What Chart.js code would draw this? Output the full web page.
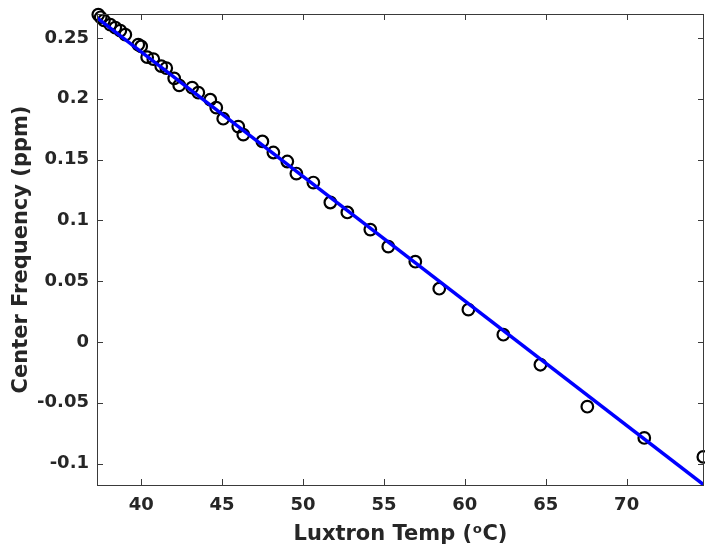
<!DOCTYPE html>
<html>
<head>
<meta charset="utf-8">
<script src="https://cdn.jsdelivr.net/npm/chart.js@4/dist/chart.umd.min.js"></script>
<style>
  html, body { margin: 0; padding: 0; background: #ffffff; overflow: hidden; }
  #wrap { width: 705px; height: 548px; }
  canvas { display: block; }
</style>
</head>
<body>
<div id="wrap"><canvas id="c" width="705" height="548"></canvas></div>
<script>
// Measured temperature (°C) and center frequency (ppm)
const tempC = [37.35, 37.50, 37.70, 38.09, 38.40, 38.71, 39.02, 39.82, 40.00, 40.37, 40.75,
  41.24, 41.55, 42.04, 42.35, 43.15, 43.53, 44.27, 44.64, 45.07, 46.00, 46.31, 47.49,
  48.17, 49.03, 49.59, 50.64, 51.69, 52.74, 54.16, 55.27, 56.94, 58.42, 60.22, 62.38,
  64.67, 67.57, 71.09, 74.74];
const centerFreq = [0.2692, 0.2670, 0.2645, 0.2609, 0.2585, 0.2560, 0.2527, 0.2445, 0.2430,
  0.2342, 0.2326, 0.2268, 0.2252, 0.2168, 0.2110, 0.2091, 0.2050, 0.1992, 0.1927, 0.1836,
  0.1771, 0.1705, 0.1649, 0.1558, 0.1484, 0.1385, 0.1311, 0.1147, 0.1065, 0.0924, 0.0784,
  0.0660, 0.0438, 0.0266, 0.0060, -0.0187, -0.0532, -0.0789, -0.0945];
// Linear fit line end points
const fitTemp = [37.27, 74.78];
const fitFreq = [0.2665, -0.1176];
// Axis ticks and limits
const xTicks = [40, 45, 50, 55, 60, 65, 70];
const yTicks = [-0.1, -0.05, 0, 0.05, 0.1, 0.15, 0.2, 0.25];
const yTickLabels = ['-0.1', '-0.05', '0', '0.05', '0.1', '0.15', '0.2', '0.25'];
const xLimits = [37.27, 74.78];
const yLimits = [-0.1176, 0.2697];

const axisColor = '#262626';

const boxPlugin = {
  id: 'boxTicks',
  afterDatasetsDraw(chart) {
    const {ctx, chartArea: a, scales: {x, y}} = chart;
    ctx.save();
    ctx.strokeStyle = '#3a3a3a';
    ctx.lineWidth = 1;
    ctx.beginPath();
    const L = 6;
    xTicks.forEach(v => {
      const px = Math.round(x.getPixelForValue(v)) + 0.5;
      ctx.moveTo(px, a.bottom); ctx.lineTo(px, a.bottom - L);
      ctx.moveTo(px, a.top); ctx.lineTo(px, a.top + L);
    });
    yTicks.forEach(v => {
      const py = Math.round(y.getPixelForValue(v)) + 0.5;
      ctx.moveTo(a.left, py); ctx.lineTo(a.left + L, py);
      ctx.moveTo(a.right, py); ctx.lineTo(a.right - L, py);
    });
    ctx.stroke();
    ctx.strokeRect(Math.round(a.left) + 0.5, Math.round(a.top) + 0.5,
      Math.round(a.right - a.left) - 1, Math.round(a.bottom - a.top));
    ctx.restore();
  }
};

new Chart(document.getElementById('c'), {
  type: 'scatter',
  data: {
    datasets: [
      {
        label: 'Fit',
        data: fitTemp.map((t, i) => ({x: t, y: fitFreq[i]})),
        showLine: true,
        borderColor: '#0000ff',
        borderWidth: 3.5,
        pointRadius: 0,
        fill: false
      },
      {
        label: 'Data',
        data: tempC.map((t, i) => ({x: t, y: centerFreq[i]})),
        showLine: false,
        pointStyle: 'circle',
        pointRadius: 5.8,
        pointBorderWidth: 2.2,
        pointBorderColor: '#000000',
        pointBackgroundColor: 'rgba(0,0,0,0)',
        clip: false
      }
    ]
  },
  options: {
    responsive: false,
    animation: false,
    devicePixelRatio: 1,
    layout: { autoPadding: false, padding: { left: 0, top: 14, right: 1, bottom: 0 } },
    plugins: { legend: { display: false }, tooltip: { enabled: false } },
    scales: {
      x: {
        type: 'linear',
        min: xLimits[0],
        max: xLimits[1],
        afterBuildTicks: s => { s.ticks = xTicks.map(v => ({value: v})); },
        afterFit: s => { s.height = 63; s.paddingLeft = 0; s.paddingRight = 0; },
        grid: { display: false, drawTicks: false },
        border: { display: false },
        ticks: {
          padding: 10,
          color: axisColor,
          font: { family: 'DejaVu Sans', size: 18, weight: 'bold' },
          maxRotation: 0,
          callback: v => String(v)
        },
        title: {
          display: true,
          text: 'Luxtron Temp (ᵒC)',
          color: axisColor,
          font: { family: 'DejaVu Sans', size: 21, weight: 'bold' },
          padding: { top: 0, bottom: 1 }
        }
      },
      y: {
        type: 'linear',
        min: yLimits[0],
        max: yLimits[1],
        afterBuildTicks: s => { s.ticks = yTicks.map(v => ({value: v})); },
        afterFit: s => { s.width = 97; s.paddingTop = 0; s.paddingBottom = 0; },
        grid: { display: false, drawTicks: false },
        border: { display: false },
        ticks: {
          padding: 8,
          color: axisColor,
          font: { family: 'DejaVu Sans', size: 18, weight: 'bold' },
          callback: (v) => {
            const i = yTicks.findIndex(t => Math.abs(t - v) < 1e-9);
            return i >= 0 ? yTickLabels[i] : '';
          }
        },
        title: {
          display: true,
          text: 'Center Frequency (ppm)',
          color: axisColor,
          font: { family: 'DejaVu Sans', size: 21, weight: 'bold' },
          padding: { top: 9, bottom: 0 }
        }
      }
    }
  },
  plugins: [boxPlugin]
});
</script>
</body>
</html>
